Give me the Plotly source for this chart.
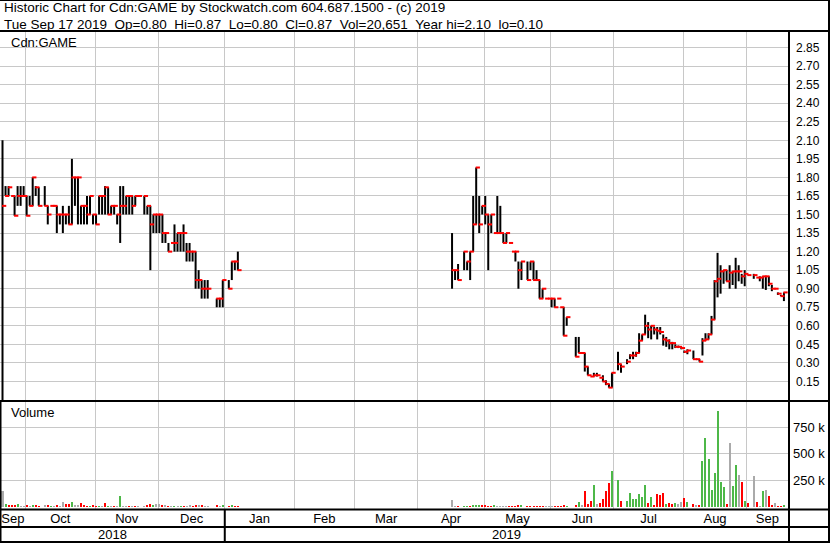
import numpy as np
import pandas as pd
import plotly.graph_objects as go

# ---------------- data ----------------
dates = [
    "2018-09-19", "2018-09-20", "2018-09-21", "2018-09-24", "2018-09-25", "2018-09-26", "2018-09-27", "2018-09-28",
    "2018-10-01", "2018-10-02", "2018-10-03", "2018-10-04", "2018-10-05", "2018-10-09", "2018-10-10", "2018-10-11",
    "2018-10-12", "2018-10-15", "2018-10-16", "2018-10-17", "2018-10-18", "2018-10-19", "2018-10-22", "2018-10-23",
    "2018-10-24", "2018-10-25", "2018-10-26", "2018-10-29", "2018-10-30", "2018-10-31", "2018-11-01", "2018-11-02",
    "2018-11-05", "2018-11-06", "2018-11-07", "2018-11-08", "2018-11-09", "2018-11-12", "2018-11-13", "2018-11-14",
    "2018-11-15", "2018-11-16", "2018-11-19", "2018-11-20", "2018-11-21", "2018-11-23", "2018-11-26", "2018-11-27",
    "2018-11-28", "2018-11-29", "2018-11-30", "2018-12-03", "2018-12-04", "2018-12-05", "2018-12-06", "2018-12-07",
    "2018-12-10", "2018-12-11", "2018-12-12", "2018-12-13", "2018-12-14", "2018-12-17", "2018-12-18", "2018-12-19",
    "2018-12-20", "2018-12-21", "2018-12-24", "2018-12-27", "2018-12-28", "2018-12-31", "2019-01-02", "2019-01-03",
    "2019-01-04", "2019-01-07",
    "2019-04-16", "2019-04-17", "2019-04-18", "2019-04-22", "2019-04-23", "2019-04-24", "2019-04-25", "2019-04-26",
    "2019-04-29", "2019-04-30", "2019-05-01", "2019-05-02", "2019-05-03", "2019-05-06", "2019-05-07", "2019-05-08",
    "2019-05-09", "2019-05-10", "2019-05-13", "2019-05-14", "2019-05-15", "2019-05-16", "2019-05-17", "2019-05-21",
    "2019-05-22", "2019-05-23", "2019-05-24", "2019-05-27", "2019-05-28", "2019-05-29", "2019-05-30", "2019-05-31",
    "2019-06-03", "2019-06-04", "2019-06-05", "2019-06-06", "2019-06-07", "2019-06-12", "2019-06-13", "2019-06-14",
    "2019-06-17", "2019-06-18", "2019-06-19", "2019-06-20", "2019-06-21", "2019-06-24", "2019-06-25", "2019-06-26",
    "2019-06-27", "2019-06-28", "2019-07-02", "2019-07-03", "2019-07-05", "2019-07-08", "2019-07-09", "2019-07-10",
    "2019-07-11", "2019-07-12", "2019-07-15", "2019-07-16", "2019-07-17", "2019-07-18", "2019-07-19", "2019-07-22",
    "2019-07-23", "2019-07-24", "2019-07-25", "2019-07-26", "2019-07-29", "2019-07-30", "2019-07-31", "2019-08-01",
    "2019-08-02", "2019-08-06", "2019-08-07", "2019-08-08", "2019-08-09", "2019-08-12", "2019-08-13", "2019-08-14",
    "2019-08-15", "2019-08-16", "2019-08-19", "2019-08-20", "2019-08-21", "2019-08-22", "2019-08-23", "2019-08-26",
    "2019-08-27", "2019-08-28", "2019-08-29", "2019-08-30", "2019-09-03", "2019-09-04", "2019-09-05", "2019-09-06",
    "2019-09-09", "2019-09-10", "2019-09-11", "2019-09-12", "2019-09-13", "2019-09-16", "2019-09-17",
]

highs = [
    2.10, 1.73, 1.73, 1.65, 1.65, 1.73, 1.73, 1.73,
    1.65, 1.65, 1.80, 1.73, 1.72, 1.73, 1.57, 1.57,
    1.57, 1.57, 1.50, 1.57, 1.50, 1.57, 1.95, 1.80,
    1.80, 1.57, 1.57, 1.65, 1.65, 1.50, 1.50, 1.65,
    1.65, 1.73, 1.72, 1.57, 1.57, 1.50, 1.73, 1.73,
    1.65, 1.65, 1.65, 1.65, 1.65, 1.65, 1.57, 1.57,
    1.50, 1.50, 1.50, 1.50, 1.35, 1.27, 1.27, 1.42,
    1.35, 1.35, 1.42, 1.27, 1.27, 1.20, 1.20, 1.05,
    0.97, 0.97, 0.97, 0.82, 0.82, 0.97, 0.97, 1.12,
    1.12, 1.20,
    1.35, 1.05, 1.10, 1.20, 1.12, 1.20, 1.65, 1.88,
    1.65, 1.57, 1.65, 1.50, 1.50, 1.35, 1.65, 1.57,
    1.35, 1.35, 1.27, 1.20, 1.20, 1.12, 1.12, 1.12,
    1.12, 1.12, 1.05, 0.97, 0.90, 0.82, 0.82, 0.82,
    0.82, 0.82, 0.75, 0.75, 0.67, 0.51, 0.51, 0.38,
    0.38, 0.27, 0.19, 0.22, 0.22, 0.18, 0.20, 0.16,
    0.13, 0.22, 0.39, 0.29, 0.33, 0.37, 0.39, 0.39,
    0.54, 0.53, 0.69, 0.63, 0.60, 0.59, 0.59, 0.59,
    0.53, 0.51, 0.49, 0.47, 0.45, 0.44, 0.43, 0.40,
    0.41, 0.40, 0.33, 0.33, 0.50, 0.54, 0.54, 0.68,
    0.97, 1.19, 1.09, 1.05, 1.05, 1.09, 1.04, 1.15,
    1.09, 1.02, 1.05, 1.01, 1.02, 0.99, 1.00, 1.00,
    1.00, 1.00, 0.93, 0.90, 0.87, 0.85, 0.87,
]

lows = [
    0.00, 1.65, 1.65, 1.65, 1.49, 1.57, 1.57, 1.65,
    1.49, 1.57, 1.57, 1.65, 1.57, 1.57, 1.42, 1.57,
    1.57, 1.35, 1.42, 1.35, 1.42, 1.42, 1.42, 1.57,
    1.42, 1.42, 1.42, 1.42, 1.50, 1.42, 1.42, 1.50,
    1.50, 1.50, 1.50, 1.50, 1.50, 1.42, 1.27, 1.50,
    1.50, 1.50, 1.50, 1.57, 1.65, 1.50, 1.50, 1.05,
    1.35, 1.35, 1.35, 1.27, 1.27, 1.20, 1.27, 1.20,
    1.20, 1.20, 1.20, 1.12, 1.12, 1.12, 0.90, 0.90,
    0.82, 0.82, 0.82, 0.75, 0.75, 0.75, 0.90, 0.97,
    1.05, 1.05,
    0.90, 0.97, 0.97, 1.05, 1.05, 0.97, 1.20, 1.42,
    1.35, 1.50, 1.42, 1.05, 1.35, 1.35, 1.35, 1.35,
    1.27, 1.27, 1.27, 1.20, 1.12, 0.90, 0.97, 0.97,
    1.05, 0.97, 0.97, 0.82, 0.82, 0.82, 0.82, 0.75,
    0.75, 0.82, 0.75, 0.52, 0.60, 0.35, 0.38, 0.38,
    0.23, 0.20, 0.19, 0.19, 0.19, 0.18, 0.15, 0.12,
    0.10, 0.10, 0.24, 0.22, 0.29, 0.33, 0.33, 0.35,
    0.38, 0.48, 0.53, 0.50, 0.49, 0.53, 0.49, 0.53,
    0.44, 0.43, 0.41, 0.41, 0.42, 0.42, 0.41, 0.38,
    0.37, 0.33, 0.33, 0.31, 0.36, 0.48, 0.49, 0.53,
    0.65, 0.83, 0.86, 0.94, 0.96, 0.90, 0.93, 0.90,
    0.96, 0.94, 0.92, 1.01, 0.98, 0.99, 0.96, 0.90,
    0.89, 0.92, 0.88, 0.90, 0.85, 0.84, 0.80,
]

closes = [
    1.57, 1.65, 1.72, 1.65, 1.49, 1.65, 1.65, 1.65,
    1.49, 1.57, 1.80, 1.72, 1.57, 1.57, 1.50, 1.57,
    1.57, 1.50, 1.50, 1.50, 1.50, 1.42, 1.80, 1.80,
    1.80, 1.57, 1.57, 1.50, 1.65, 1.50, 1.42, 1.65,
    1.65, 1.72, 1.50, 1.57, 1.57, 1.50, 1.57, 1.57,
    1.65, 1.65, 1.57, 1.65, 1.65, 1.65, 1.57, 1.42,
    1.50, 1.50, 1.50, 1.35, 1.35, 1.20, 1.27, 1.27,
    1.35, 1.35, 1.35, 1.20, 1.20, 1.20, 0.97, 0.97,
    0.90, 0.90, 0.90, 0.82, 0.82, 0.97, 0.90, 1.12,
    1.12, 1.05,
    1.05, 1.05, 0.97, 1.20, 1.12, 1.20, 1.42, 1.88,
    1.42, 1.57, 1.50, 1.42, 1.50, 1.35, 1.35, 1.35,
    1.27, 1.35, 1.27, 1.20, 1.20, 1.05, 1.12, 0.97,
    1.12, 0.97, 0.97, 0.82, 0.90, 0.82, 0.82, 0.82,
    0.75, 0.82, 0.75, 0.52, 0.67, 0.35, 0.38, 0.38,
    0.27, 0.20, 0.19, 0.20, 0.20, 0.18, 0.15, 0.13,
    0.10, 0.22, 0.29, 0.27, 0.31, 0.36, 0.36, 0.38,
    0.48, 0.53, 0.60, 0.57, 0.60, 0.57, 0.56, 0.55,
    0.49, 0.48, 0.46, 0.46, 0.43, 0.43, 0.42, 0.39,
    0.40, 0.33, 0.33, 0.31, 0.48, 0.49, 0.53, 0.65,
    0.96, 0.98, 1.04, 1.05, 0.96, 1.03, 1.04, 1.04,
    1.04, 1.00, 1.02, 1.01, 1.01, 0.99, 0.99, 1.00,
    1.00, 0.94, 0.90, 0.90, 0.86, 0.84, 0.87,
]

volumes = [
    150000, 30000, 12000, 10000, 15000, 28000, 8000, 8000,
    12000, 8000, 15000, 10000, 8000, 10000, 15000, 8000,
    8000, 15000, 8000, 47000, 25000, 25000, 47000, 20000,
    15000, 35000, 10000, 8000, 8000, 10000, 8000, 8000,
    8000, 37000, 8000, 8000, 8000, 8000, 103000, 8000,
    8000, 8000, 8000, 8000, 8000, 8000, 10000, 28000,
    12000, 25000, 28000, 12000, 20000, 8000, 8000, 8000,
    8000, 8000, 8000, 8000, 12000, 8000, 20000, 12000,
    20000, 8000, 8000, 20000, 8000, 20000, 8000, 12000,
    8000, 8000,
    61000, 6000, 8000, 8000, 6000, 6000, 12000, 12000,
    12000, 12000, 12000, 8000, 8000, 12000, 8000, 6000,
    6000, 6000, 6000, 6000, 6000, 15000, 15000, 8000,
    8000, 8000, 8000, 8000, 8000, 8000, 8000, 8000,
    8000, 8000, 8000, 20000, 8000, 10000, 50000, 15000,
    145000, 30000, 55000, 205000, 25000, 35000, 72000, 150000,
    228000, 340000, 253000, 60000, 60000, 135000, 75000, 70000,
    120000, 90000, 205000, 35000, 90000, 20000, 125000, 115000,
    135000, 25000, 35000, 30000, 35000, 25000, 50000, 80000,
    45000, 30000, 20000, 10000, 436000, 647000, 455000, 157000,
    320000, 900000, 234000, 186000, 26000, 600000, 195000, 397000,
    301000, 234000, 55000, 35000, 292000, 42000, 5000, 147000,
    157000, 100000, 13000, 32000, 5000, 5000, 20651,
]

# g = up (green), r = down (red), n = unchanged (grey)
vol_colors = [
    "n", "g", "r", "r", "r", "g", "n", "n",
    "r", "n", "g", "r", "r", "n", "r", "g",
    "n", "r", "n", "n", "r", "r", "g", "n",
    "n", "r", "r", "r", "g", "r", "r", "g",
    "n", "r", "g", "n", "r", "n", "g", "n",
    "n", "r", "n", "r", "n", "n", "r", "r",
    "g", "n", "n", "r", "n", "r", "n", "g",
    "n", "g", "r", "n", "n", "r", "r", "n",
    "r", "n", "n", "r", "n", "g", "r", "g",
    "r", "r",
    "n", "n", "r", "g", "g", "r", "g", "g",
    "g", "r", "r", "r", "r", "g", "n", "n",
    "n", "n", "r", "r", "r", "r", "g", "r",
    "r", "r", "r", "r", "r", "n", "n", "n",
    "r", "r", "r", "r", "g", "r", "g", "n",
    "r", "r", "r", "g", "n", "r", "r", "r",
    "r", "g", "g", "r", "g", "g", "g", "g",
    "g", "g", "g", "r", "g", "r", "r", "r",
    "r", "g", "r", "r", "g", "n", "n", "r",
    "g", "r", "n", "r", "g", "g", "g", "g",
    "g", "g", "g", "g", "r", "n", "g", "g",
    "n", "r", "g", "r", "n", "r", "n", "g",
    "n", "r", "r", "n", "r", "r", "g",
]

price_ticks = [0.15, 0.30, 0.45, 0.60, 0.75, 0.90, 1.05, 1.20, 1.35, 1.50,
               1.65, 1.80, 1.95, 2.10, 2.25, 2.40, 2.55, 2.70, 2.85]
vol_ticks = [250000, 500000, 750000]
vol_tick_text = ["250 k", "500 k", "750 k"]

header1 = "Historic Chart for Cdn:GAME by Stockwatch.com 604.687.1500 - (c) 2019"
header2 = ("Tue Sep 17 2019\u00a0\u00a0Op=0.80\u00a0\u00a0Hi=0.87\u00a0\u00a0Lo=0.80\u00a0\u00a0Cl=0.87"
           "\u00a0\u00a0Vol=20,651\u00a0\u00a0Year hi=2.10\u00a0\u00a0lo=0.10")

# ---------------- geometry helpers ----------------
W, H = 830, 543
FONT = "Liberation Sans, Arial, sans-serif"
X_START = pd.Timestamp("2018-09-18 12:00")
X_END = pd.Timestamp("2019-09-18 16:26")
BASE = np.datetime64("2018-09-18")


def py(px):
    return 1 - px / H


def pxx(px):
    return px / W


def to_idx(ts):
    ts = pd.Timestamp(ts)
    d = np.datetime64(ts.date())
    return float(np.busday_count(BASE, d)) + (ts - ts.normalize()).total_seconds() / 86400


def from_idx(f):
    i = int(np.floor(f))
    d = np.busday_offset(BASE, i, roll="forward")
    return pd.Timestamp(d) + pd.Timedelta(days=f - i)


# month boundaries (rolled back to a weekday)
grid_dates = []
for m in pd.date_range("2018-10-01", "2019-09-01", freq="MS"):
    d = m
    while d.weekday() >= 5:
        d -= pd.Timedelta(days=1)
    grid_dates.append(d)

edges = [X_START] + grid_dates + [X_END]
label_months = [pd.Timestamp("2018-09-01")] + list(pd.date_range("2018-10-01", "2019-09-01", freq="MS"))
label_vals, label_txt = [], []
for a, b, m in zip(edges[:-1], edges[1:], label_months):
    label_vals.append(from_idx((to_idx(a) + to_idx(b)) / 2).strftime("%Y-%m-%d %H:%M:%S"))
    label_txt.append(m.strftime("%b"))

jan1 = [g for g in grid_dates if g.year == 2019 and g.month == 1][0]
year_pos = {
    "2018": from_idx((to_idx(X_START) + to_idx(jan1)) / 2),
    "2019": from_idx((to_idx(jan1) + to_idx(X_END)) / 2),
}

# ---------------- traces ----------------
bar_x = [pd.Timestamp(d) + pd.Timedelta(hours=8) for d in dates]
tick_x = [pd.Timestamp(d) + pd.Timedelta(hours=21) for d in dates]

seg_x, seg_y = [], []
for t, h, l in zip(bar_x, highs, lows):
    seg_x += [t, t, None]
    seg_y += [l, h, None]

fig = go.Figure()
fig.add_trace(go.Scatter(x=seg_x, y=seg_y, mode="lines", line=dict(color="black", width=2),
                         xaxis="x", yaxis="y", hoverinfo="skip"))
fig.add_trace(go.Scatter(x=tick_x, y=closes, mode="markers",
                         marker=dict(symbol="line-ew", size=3, line=dict(color="#ff0000", width=2)),
                         xaxis="x", yaxis="y", hoverinfo="skip"))

cmap = {"g": "#4db848", "r": "#ff0000", "n": "#aaaaaa"}
fig.add_trace(go.Bar(x=bar_x, y=volumes, marker=dict(color=[cmap[c] for c in vol_colors], line=dict(width=0)),
                     width=0.663 * 86400000, xaxis="x2", yaxis="y2", hoverinfo="skip"))

grid_vals = [g.strftime("%Y-%m-%d %H:%M:%S") for g in grid_dates]
xr = [X_START.strftime("%Y-%m-%d %H:%M:%S"), X_END.strftime("%Y-%m-%d %H:%M:%S")]
rb = [dict(bounds=["sat", "mon"])]
GRID = "#c8c8c8"

common_x = dict(type="date", range=xr, rangebreaks=rb, domain=[0, pxx(788)], showgrid=False,
                zeroline=False, showline=False, ticks="",
                minor=dict(tickmode="array", tickvals=grid_vals, showgrid=True, gridcolor=GRID,
                           gridwidth=1, ticks=""))

fig.update_layout(
    width=W, height=H, margin=dict(l=0, r=0, t=0, b=0),
    paper_bgcolor="white", plot_bgcolor="white", showlegend=False,
    font=dict(family=FONT, color="black", size=13),
    xaxis=dict(anchor="y", showticklabels=False, **common_x),
    xaxis2=dict(anchor="y2", tickmode="array", tickvals=label_vals, ticktext=label_txt,
                tickfont=dict(family=FONT, size=13, color="black"), **common_x),
    yaxis=dict(domain=[py(400), py(32)], range=[0.0, 2.976], side="right", anchor="x",
               tickmode="array", tickvals=price_ticks, tickformat=".2f",
               showgrid=True, gridcolor=GRID, gridwidth=1, zeroline=False, ticks="",
               ticklabelstandoff=7,
               tickfont=dict(family=FONT, size=12, color="black"), showline=False),
    yaxis2=dict(domain=[py(509), py(401)], range=[-20000, 996000], side="right", anchor="x2",
                tickmode="array", tickvals=vol_ticks, ticktext=vol_tick_text,
                showgrid=True, gridcolor=GRID, gridwidth=1, zeroline=False, ticks="",
                ticklabelstandoff=4,
                tickfont=dict(family=FONT, size=13, color="black"), showline=False),
    bargap=0,
)

# ---------------- frame lines ----------------
def hline(px, x0=0, x1=W, w=2):
    return dict(type="line", xref="paper", yref="paper", x0=pxx(x0), x1=pxx(x1), y0=py(px), y1=py(px),
                line=dict(color="black", width=w), layer="above")


def vline(px, y0, y1, w=2):
    return dict(type="line", xref="paper", yref="paper", x0=pxx(px), x1=pxx(px), y0=py(y0), y1=py(y1),
                line=dict(color="black", width=w), layer="above")


shapes = [
    hline(0.5, w=1),
    hline(31),
    hline(401),
    hline(509.5),
    hline(527),
    hline(542),
    vline(789, 31, H),
    vline(829, 0, H),
    vline(0.75, 401, H, w=1.5),
    dict(type="line", xref="x2", yref="paper", x0=jan1, x1=jan1, y0=py(509), y1=py(542),
         line=dict(color="black", width=2), layer="above"),
]
fig.update_layout(shapes=shapes)

ann = [
    dict(text=header1, x=pxx(2), y=py(8), xanchor="left", yanchor="middle", font=dict(size=13.5)),
    dict(text=header2, x=pxx(2), y=py(24), xanchor="left", yanchor="middle", font=dict(size=13.5)),
    dict(text="Cdn:GAME", x=pxx(9), y=py(42), xanchor="left", yanchor="middle", font=dict(size=13)),
    dict(text="Volume", x=pxx(9), y=py(413), xanchor="left", yanchor="middle", font=dict(size=13)),
]
for a in ann:
    a.update(xref="paper", yref="paper", showarrow=False)
for yr, pos in year_pos.items():
    ann.append(dict(text=yr, x=pos, y=py(534.5), xref="x2", yref="paper", showarrow=False,
                    xanchor="center", yanchor="middle", font=dict(size=13)))
fig.update_layout(annotations=ann)

fig.write_html(
    "out.html",
    config={"displayModeBar": False},
    post_script="document.body.style.margin='0';document.body.style.padding='0';"
                "document.documentElement.style.overflow='hidden';",
)
